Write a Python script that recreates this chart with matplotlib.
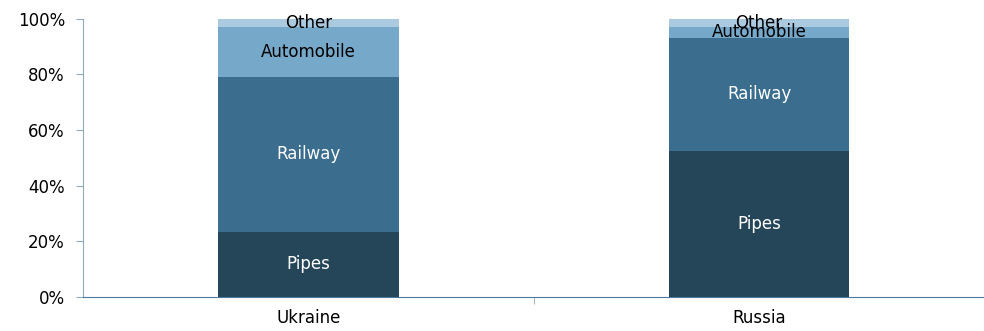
import numpy as np
import matplotlib.pyplot as plt

countries = ['Ukraine', 'Russia']
modes = ['Pipes', 'Railway', 'Automobile', 'Other']
pipes = [23.4, 52.5]
railway = [55.7, 40.7]
automobile = [18.0, 3.9]
other = [2.9, 2.9]

colors = ['#254659', '#3a6d8e', '#76a9c9', '#abcadf']
text_colors = ['white', 'white', 'black', 'black']

fig = plt.figure(figsize=(9.84, 3.31), dpi=100)
ax = fig.add_axes([0.0844, 0.103, 0.916, 0.84])

x = np.arange(len(countries))
bottom = np.zeros(len(countries))
for name, vals, c, tc in zip(modes, [pipes, railway, automobile, other], colors, text_colors):
    vals = np.array(vals)
    ax.bar(x, vals, 0.4, bottom=bottom, color=c)
    for xi, b, v in zip(x, bottom, vals):
        ax.text(xi, b + v / 2, name, ha='center', va='center', color=tc, fontsize=12)
    bottom += vals

ax.set_xlim(-0.5, 1.5)
ax.set_ylim(0, 100)
ax.set_yticks([0, 20, 40, 60, 80, 100])
ax.set_yticklabels(['0%', '20%', '40%', '60%', '80%', '100%'], fontsize=12)
ax.set_xticks(x)
ax.set_xticklabels(countries, fontsize=12)
ax.set_xticks([0.5], minor=True)
ax.tick_params(axis='x', which='major', length=0, pad=9)
ax.tick_params(axis='x', which='minor', length=5, color='#8eaabb', direction='out')
ax.tick_params(axis='y', length=5, color='#8eaabb', direction='out', pad=8)

for s in ['top', 'right']:
    ax.spines[s].set_visible(False)
ax.spines['left'].set_color('#8eaabb')
ax.spines['bottom'].set_color('#4a7aa0')

fig.savefig('out.png', dpi=100)
